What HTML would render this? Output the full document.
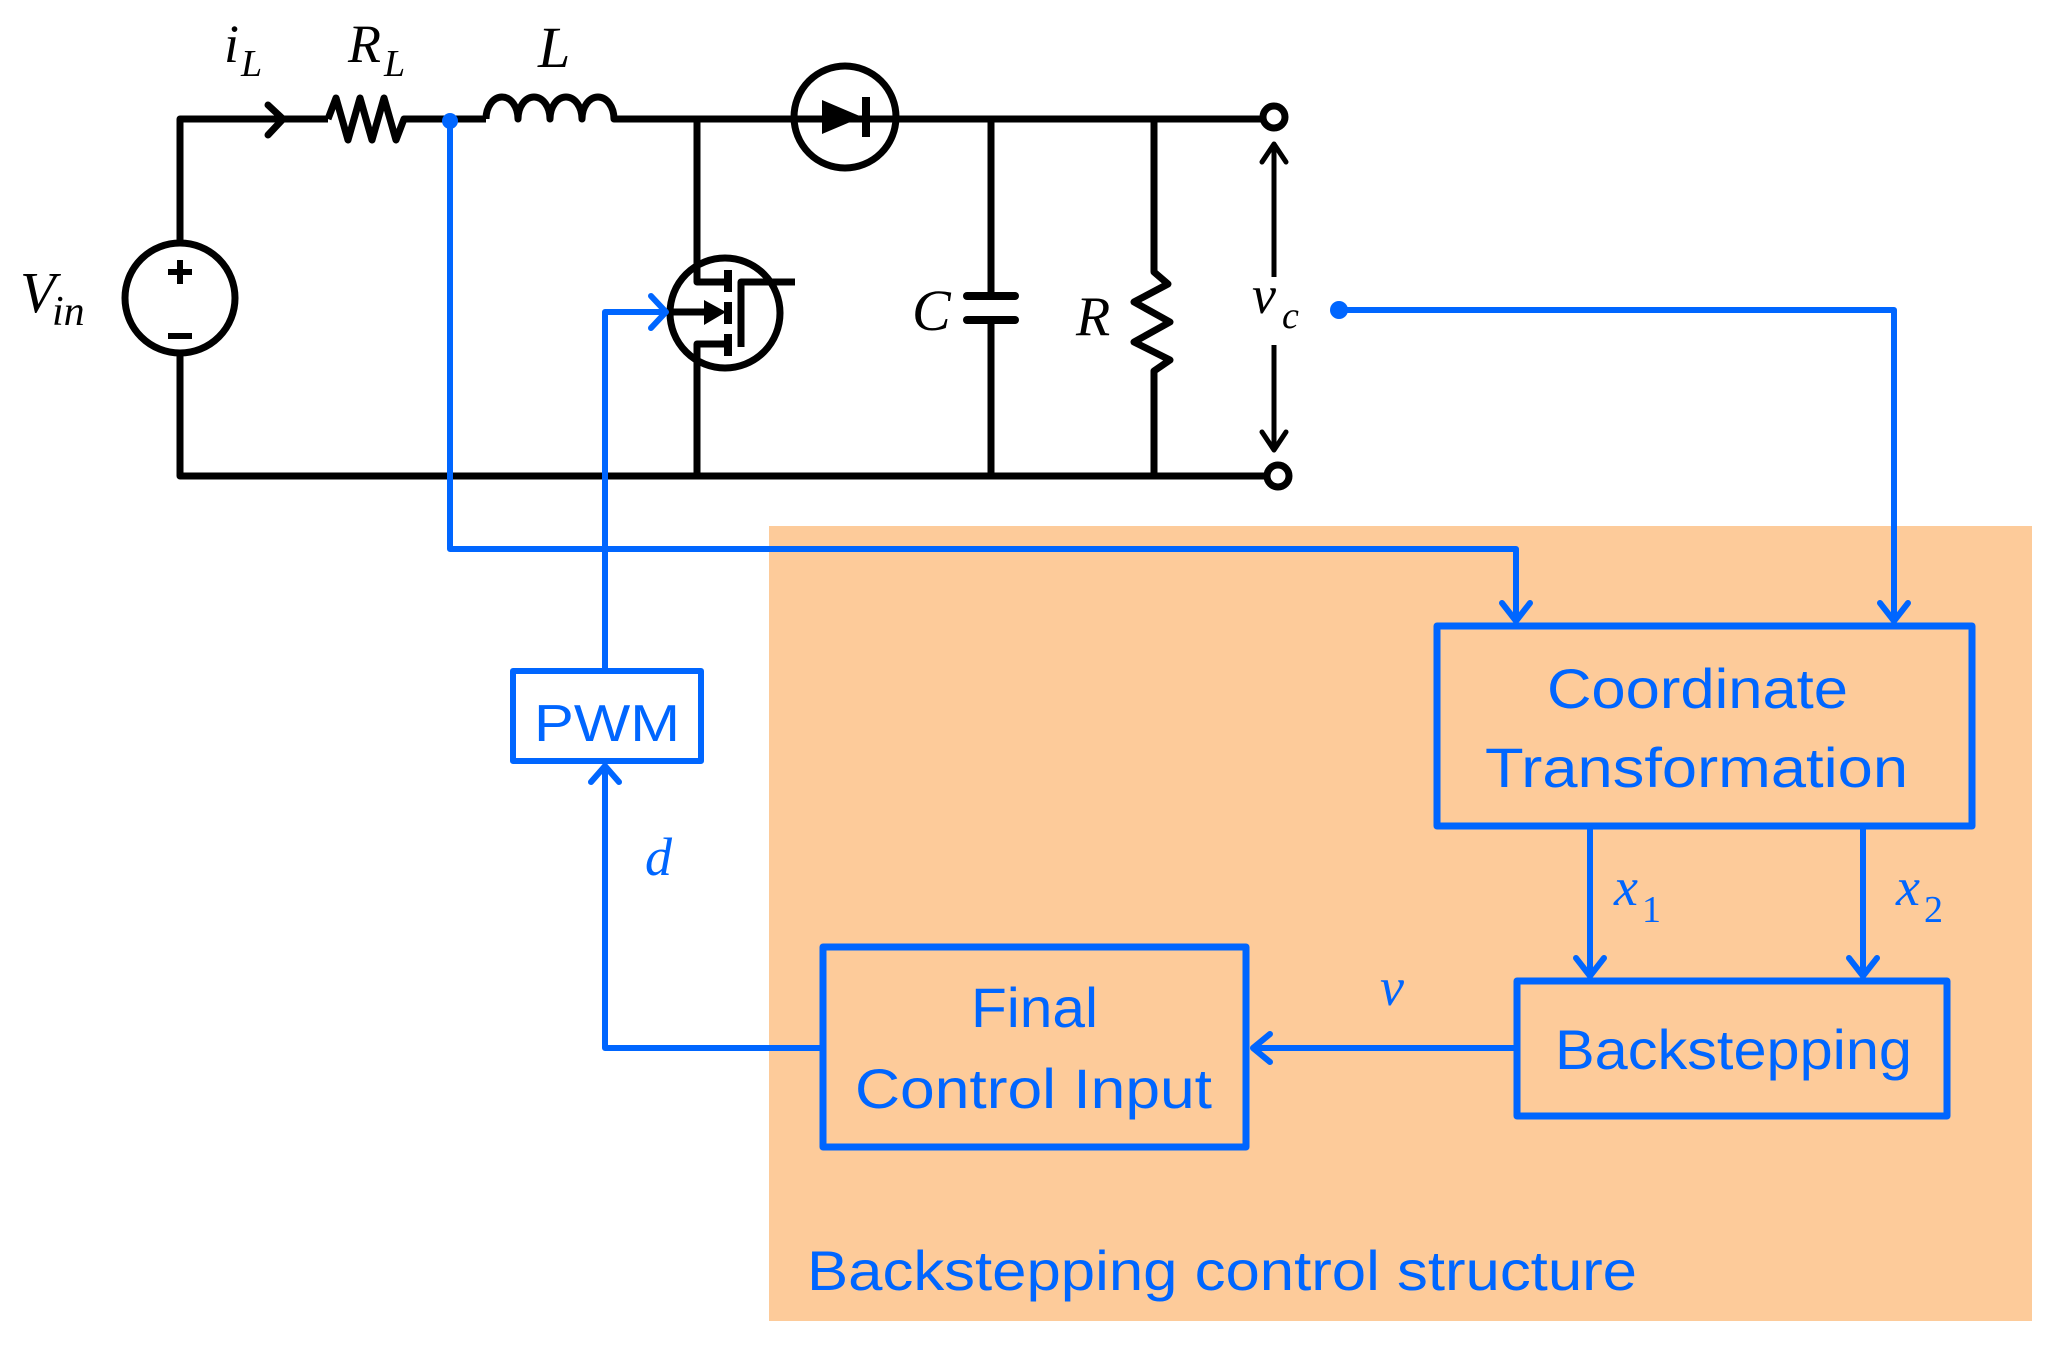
<!DOCTYPE html>
<html><head><meta charset="utf-8"><style>
html,body{margin:0;padding:0;background:#fff;}
svg{display:block;}
.m{font-family:"Liberation Serif",serif;font-style:italic;}
.t{font-family:"Liberation Sans",sans-serif;fill:#0066FF;}
</style></head><body>
<svg width="2058" height="1345" viewBox="0 0 2058 1345" xmlns="http://www.w3.org/2000/svg">
<rect x="769" y="526" width="1263" height="795" fill="#FDCB9A"/>
<g fill="none" stroke="#000" stroke-width="7" stroke-linejoin="round">
<polyline points="328,119 180,119 180,242"/>
<polyline points="180,354 180,476 1266,476"/>
<circle cx="180" cy="298" r="55"/>
<polyline points="268,105 283,119 268,135" stroke-linecap="round"/>
<polyline points="328,119 336,98 348,140 360,98 372,140 384,98 396,140 404,119 486,119"/>
<path d="M486,119 a16,22 0 0 1 32,0 a16,22 0 0 1 32,0 a16,22 0 0 1 32,0 a16,22 0 0 1 32,0 h3"/>
<line x1="617" y1="119" x2="1262" y2="119"/>
<circle cx="845" cy="117" r="51"/>
<polyline points="697,119 697,282 728,282"/>
<polyline points="728,344 697,344 697,476"/>
<circle cx="725" cy="313" r="55"/>
<line x1="728" y1="270" x2="728" y2="292" stroke-width="8"/>
<line x1="728" y1="302" x2="728" y2="324" stroke-width="8"/>
<line x1="728" y1="334" x2="728" y2="356" stroke-width="8"/>
<polyline points="741,347 741,282 795,282"/>
<line x1="670" y1="312" x2="705" y2="312"/>
<line x1="991" y1="119" x2="991" y2="296"/>
<line x1="991" y1="320" x2="991" y2="476"/>
<line x1="967" y1="296" x2="1015" y2="296" stroke-width="8" stroke-linecap="round"/>
<line x1="967" y1="320" x2="1015" y2="320" stroke-width="8" stroke-linecap="round"/>
<polyline points="1154,119 1154,272 1168,284 1134,302 1170,322 1134,342 1170,360 1154,371 1154,476"/>
<circle cx="1274" cy="117" r="11" fill="#fff"/>
<circle cx="1278" cy="476" r="11" fill="#fff"/>
<line x1="1274" y1="144" x2="1274" y2="277" stroke-width="5"/>
<polyline points="1262,162 1274,144 1286,162" stroke-width="5" stroke-linecap="round"/>
<line x1="1274" y1="345" x2="1274" y2="449" stroke-width="5"/>
<polyline points="1262,432 1274,450 1286,432" stroke-width="5" stroke-linecap="round"/>
</g>
<polygon points="822,100 822,134 862,117" fill="#000"/>
<line x1="866" y1="97" x2="866" y2="137" stroke="#000" stroke-width="8"/>
<polygon points="704,300 704,325 726,312" fill="#000"/>
<line x1="168" y1="272" x2="192" y2="272" stroke="#000" stroke-width="6"/>
<line x1="180" y1="260" x2="180" y2="284" stroke="#000" stroke-width="6"/>
<line x1="168" y1="336" x2="192" y2="336" stroke="#000" stroke-width="6"/>
<g class="m" fill="#000">
<text x="20" y="312" font-size="58">V</text><text x="52" y="325" font-size="42">in</text>
<text x="224" y="62" font-size="54">i</text><text x="241" y="76" font-size="38">L</text>
<text x="348" y="62" font-size="54">R</text><text x="384" y="76" font-size="38">L</text>
<text x="538" y="67" font-size="58">L</text>
<text x="912" y="330" font-size="58">C</text>
<text x="1076" y="335" font-size="56">R</text>
<text x="1252" y="313" font-size="54">v</text><text x="1282" y="328" font-size="38">c</text>
</g>
<g fill="none" stroke="#0066FF" stroke-width="6" stroke-linejoin="round" stroke-linecap="round">
<polyline points="450,119 450,549 1516,549 1516,620"/>
<polyline points="1502,603 1516,621 1530,603"/>
<polyline points="1339,310 1894,310 1894,620"/>
<polyline points="1880,603 1894,621 1908,603"/>
<polyline points="605,669 605,312 664,312"/>
<polyline points="651,296 666,312 651,328"/>
<rect x="513" y="671" width="188" height="90" stroke-width="6"/>
<rect x="1437" y="626" width="535" height="200" stroke-width="7"/>
<rect x="1517" y="981" width="430" height="135" stroke-width="7"/>
<rect x="823" y="947" width="423" height="200" stroke-width="7"/>
<line x1="1590" y1="829" x2="1590" y2="974"/>
<polyline points="1576,958 1590,976 1604,958"/>
<line x1="1863" y1="829" x2="1863" y2="974"/>
<polyline points="1849,958 1863,976 1877,958"/>
<line x1="1514" y1="1048" x2="1255" y2="1048"/>
<polyline points="1270,1034 1253,1048 1270,1062"/>
<polyline points="820,1048 605,1048 605,766"/>
<polyline points="591,782 605,766 619,782"/>
</g>
<circle cx="450" cy="121" r="8" fill="#0066FF"/>
<circle cx="1339" cy="310" r="9" fill="#0066FF"/>
<text class="t" x="534" y="741" font-size="52" textLength="146" lengthAdjust="spacingAndGlyphs">PWM</text>
<text class="t" x="1547" y="708" font-size="56" textLength="301" lengthAdjust="spacingAndGlyphs">Coordinate</text>
<text class="t" x="1485" y="787" font-size="56" textLength="423" lengthAdjust="spacingAndGlyphs">Transformation</text>
<text class="t" x="1555" y="1069" font-size="56" textLength="357" lengthAdjust="spacingAndGlyphs">Backstepping</text>
<text class="t" x="971" y="1027" font-size="56" textLength="127" lengthAdjust="spacingAndGlyphs">Final</text>
<text class="t" x="855" y="1108" font-size="56" textLength="357" lengthAdjust="spacingAndGlyphs">Control Input</text>
<text class="t" x="807" y="1290" font-size="56" textLength="830" lengthAdjust="spacingAndGlyphs">Backstepping control structure</text>
<g class="m" fill="#0066FF">
<text x="645" y="875" font-size="54">d</text>
<text x="1380" y="1005" font-size="54">v</text>
<text x="1614" y="905" font-size="54">x</text><text x="1642" y="922" font-size="38" font-style="normal">1</text>
<text x="1896" y="905" font-size="54">x</text><text x="1924" y="922" font-size="38" font-style="normal">2</text>
</g>
</svg>
</body></html>
